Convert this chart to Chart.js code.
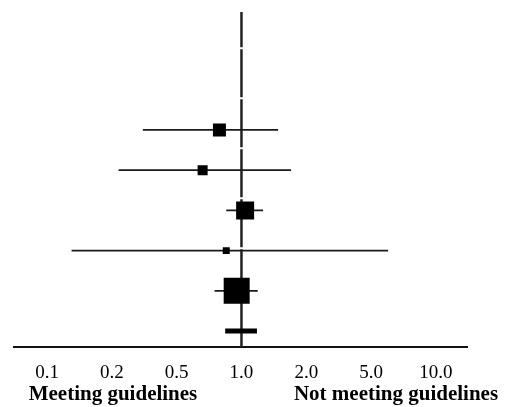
<!DOCTYPE html>
<html>
<head>
<meta charset="utf-8">
<script src="https://cdn.jsdelivr.net/npm/chart.js@4.4.1/dist/chart.umd.min.js"></script>
<style>
  html, body { margin: 0; padding: 0; background: #fff; }
  #wrap { width: 506px; height: 407px; }
</style>
</head>
<body>
<div id="wrap"><canvas id="forest" width="506" height="407"></canvas></div>
<script>
// tick labels of the odds-ratio axis (drawn equally spaced)
const tickValues = [0.1, 0.2, 0.5, 1.0, 2.0, 5.0, 10.0];
const tickLabels = ['0.1', '0.2', '0.5', '1.0', '2.0', '5.0', '10.0'];

// studies, top to bottom (rows counted from the bottom, summary = row 1)
const studyRows = [6, 5, 4, 3, 2];
const estimates = [0.79, 0.66, 1.04, 0.85, 0.95];
const lowerCI   = [0.31, 0.22, 0.85, 0.13, 0.75];
const upperCI   = [1.48, 1.70, 1.26, 6.00, 1.19];
const weights   = [12.8, 7.6, 24.6, 3.7, 51.3];

// pooled estimate
const pooledRow = 1;
const pooledLower = 0.84;
const pooledUpper = 1.18;

const rowMin = 0.6;
const rowMax = 8.93;

// value -> position on the equally spaced tick axis (log interpolation between ticks)
function toPos(v) {
  for (let i = 0; i < tickValues.length - 1; i++) {
    const a = tickValues[i], b = tickValues[i + 1];
    if (v <= b || i === tickValues.length - 2) {
      return i + Math.log(v / a) / Math.log(b / a);
    }
  }
}

const ciDatasets = estimates.map((e, i) => ({
  type: 'line',
  data: [{ x: toPos(lowerCI[i]), y: studyRows[i] }, { x: toPos(upperCI[i]), y: studyRows[i] }],
  borderColor: '#1a1a1a',
  borderWidth: 1.6,
  pointRadius: 0,
  order: 2
}));

const squareSides = weights.map(w => 3.63 * Math.sqrt(w));

const datasets = [
  {
    type: 'scatter',
    data: estimates.map((e, i) => ({ x: toPos(e), y: studyRows[i] })),
    pointStyle: 'rect',
    pointRadius: squareSides.map(s => s / Math.SQRT2),
    backgroundColor: '#000',
    borderColor: '#000',
    borderWidth: 0,
    order: 0
  },
  {
    type: 'line',
    data: [{ x: toPos(pooledLower), y: pooledRow }, { x: toPos(pooledUpper), y: pooledRow }],
    borderColor: '#000',
    borderWidth: 5,
    borderCapStyle: 'butt',
    pointRadius: 0,
    order: 1
  },
  ...ciDatasets,
  {
    type: 'line',
    data: [{ x: toPos(1.0), y: rowMin }, { x: toPos(1.0), y: rowMax }],
    borderColor: '#222',
    borderWidth: 2.5,
    borderDash: [48, 2],
    pointRadius: 0,
    order: 3
  }
];

const sideLabels = {
  id: 'sideLabels',
  afterDraw(chart) {
    const c = chart.ctx;
    c.save();
    c.fillStyle = '#000';
    c.font = 'bold 21px "Liberation Serif"';
    c.textBaseline = 'middle';
    c.textAlign = 'center';
    c.fillText('Meeting guidelines', 113, 395);
    c.fillText('Not meeting guidelines', 396, 395);
    c.restore();
  }
};

new Chart(document.getElementById('forest'), {
  data: { datasets },
  plugins: [sideLabels],
  options: {
    responsive: false,
    animation: false,
    events: [],
    layout: { autoPadding: false, padding: { top: 12, left: 14, right: 39, bottom: 9 } },
    plugins: { legend: { display: false }, tooltip: { enabled: false } },
    scales: {
      x: {
        type: 'linear',
        min: -0.51,
        max: 6.48,
        afterBuildTicks: (scale) => { scale.ticks = tickLabels.map((t, i) => ({ value: i })); },
        grid: { display: false, drawTicks: false },
        border: { display: true, color: '#111', width: 2 },
        ticks: {
          padding: 14,
          color: '#000',
          font: { family: '"Liberation Serif"', size: 19 },
          callback: (v, i) => tickLabels[i]
        }
      },
      y: {
        type: 'linear',
        display: false,
        min: rowMin,
        max: rowMax
      }
    }
  }
});
</script>
</body>
</html>
